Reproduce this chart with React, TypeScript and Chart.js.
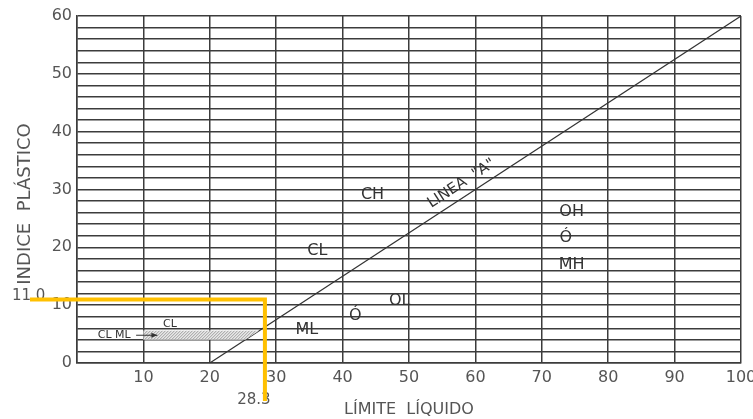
import React, { useEffect, useRef } from 'react';
import { Chart, registerables } from 'chart.js';
Chart.register(...registerables);

// Axis ranges / ticks
const llMin = 0, llMax = 100, llStep = 10;
const piMin = 0, piMax = 60, piStep = 2, piLabelStep = 10;

// Line "A": PI = 0.75 (LL - 20)
const aLineLL = [20, 100];
const aLinePI = [0, 60];

// Zone labels (data coordinates)
const zoneNames = ['CH', 'CL', 'ML', 'Ó', 'OL', 'OH', 'Ó', 'MH'];
const zoneLL = [44.5, 36.2, 34.6, 41.9, 48.6, 74.5, 73.6, 74.5];
const zonePI = [29.1, 19.4, 5.7, 8.1, 10.7, 26.1, 21.6, 17.0];

// CL-ML hatched band
const bandLL = [10];
const bandPI = [4, 5.6];
const smallNames = ['CL', 'CL ML'];
const smallLL = [14.0, 5.6];
const smallPI = [6.7, 4.8];
const arrowLL = [8.9, 12.1];
const arrowPI = 4.8;

// Line A label
const lineALabel = 'LINEA  "A"';
const lineALabelLL = 57.9;
const lineALabelPI = 31.0;

// Sample point
const sampleLL = [28.3];
const samplePI = [11.0];
const sampleLLText = '28.3';
const samplePIText = '11.0';

const FONT = '"DejaVu Sans", sans-serif';

export default function App() {
  const ref = useRef<HTMLCanvasElement | null>(null);
  useEffect(() => {
    document.body.style.margin = '0';
    const canvas = ref.current!;
    const aSlope = (aLinePI[1] - aLinePI[0]) / (aLineLL[1] - aLineLL[0]);
    const aX = (pi: number) => aLineLL[0] + (pi - aLinePI[0]) / aSlope;

    const overlay = {
      id: 'overlay',
      afterDatasetsDraw(chart: any) {
        const ctx = chart.ctx as CanvasRenderingContext2D;
        const xs = chart.scales.x, ys = chart.scales.y;
        const px = (v: number) => xs.getPixelForValue(v);
        const py = (v: number) => ys.getPixelForValue(v);
        ctx.save();
        // hatched band
        const poly = [
          [bandLL[0], bandPI[0]],
          [bandLL[0], bandPI[1]],
          [aX(bandPI[1]), bandPI[1]],
          [aX(bandPI[0]), bandPI[0]],
        ];
        ctx.beginPath();
        poly.forEach(([a, b], i) => (i ? ctx.lineTo(px(a), py(b)) : ctx.moveTo(px(a), py(b))));
        ctx.closePath();
        ctx.fillStyle = 'rgba(232,232,232,1)';
        ctx.fill();
        ctx.save();
        ctx.clip();
        ctx.strokeStyle = '#8a8a8a';
        ctx.lineWidth = 0.8;
        const x0 = px(bandLL[0]) - 20, x1 = px(aX(bandPI[1])) + 20;
        const yTop = py(bandPI[1]), yBot = py(bandPI[0]);
        for (let x = x0; x < x1; x += 3) {
          ctx.beginPath();
          ctx.moveTo(x, yBot);
          ctx.lineTo(x + (yBot - yTop), yTop);
          ctx.stroke();
        }
        ctx.restore();

        // zone labels
        ctx.fillStyle = '#333';
        ctx.font = `16px ${FONT}`;
        ctx.textAlign = 'center';
        ctx.textBaseline = 'middle';
        zoneNames.forEach((n, i) => ctx.fillText(n, px(zoneLL[i]), py(zonePI[i])));

        // small labels
        ctx.font = `11px ${FONT}`;
        smallNames.forEach((n, i) => ctx.fillText(n, px(smallLL[i]), py(smallPI[i])));
        // arrow
        const ax0 = px(arrowLL[0]), ax1 = px(arrowLL[1]), ay = py(arrowPI);
        ctx.strokeStyle = '#333';
        ctx.lineWidth = 1;
        ctx.beginPath();
        ctx.moveTo(ax0, ay);
        ctx.lineTo(ax1, ay);
        ctx.stroke();
        ctx.beginPath();
        ctx.moveTo(ax1, ay);
        ctx.lineTo(ax1 - 6, ay - 2.5);
        ctx.lineTo(ax1 - 6, ay + 2.5);
        ctx.closePath();
        ctx.fillStyle = '#333';
        ctx.fill();

        // line A label
        const ang = Math.atan2(py(aLinePI[1]) - py(aLinePI[0]), px(aLineLL[1]) - px(aLineLL[0]));
        ctx.save();
        ctx.translate(px(lineALabelLL), py(lineALabelPI));
        ctx.rotate(ang);
        ctx.font = `15px ${FONT}`;
        ctx.fillStyle = '#333';
        ctx.fillText(lineALabel, 0, 0);
        ctx.restore();

        // axis titles
        ctx.fillStyle = '#555';
        ctx.font = `16px ${FONT}`;
        ctx.fillText('LÍMITE  LÍQUIDO', 409, 410);
        ctx.save();
        ctx.translate(25, 204);
        ctx.rotate(-Math.PI / 2);
        ctx.font = `18px ${FONT}`;
        ctx.fillText('INDICE  PLÁSTICO', 0, 0);
        ctx.restore();

        // sample value texts
        ctx.fillStyle = '#555';
        ctx.font = `15px ${FONT}`;
        ctx.textAlign = 'left';
        ctx.fillText(samplePIText, 12, py(samplePI[0]) - 3);
        ctx.textAlign = 'center';
        ctx.fillText(sampleLLText, px(sampleLL[0]) - 11, 400);

        // yellow guide lines
        ctx.strokeStyle = '#FFC000';
        ctx.lineWidth = 4;
        ctx.lineCap = 'butt';
        ctx.lineJoin = 'miter';
        ctx.beginPath();
        ctx.moveTo(30, py(samplePI[0]));
        ctx.lineTo(px(sampleLL[0]), py(samplePI[0]));
        ctx.lineTo(px(sampleLL[0]), 401);
        ctx.stroke();
        ctx.restore();
      },
    };

    const chart = new Chart(canvas, {
      type: 'scatter',
      data: {
        datasets: [
          {
            data: aLineLL.map((x, i) => ({ x, y: aLinePI[i] })),
            showLine: true,
            borderColor: '#333',
            borderWidth: 1.2,
            pointRadius: 0,
            fill: false,
          },
        ],
      },
      options: {
        animation: false,
        responsive: false,
        events: [],
        layout: { padding: { top: 16, right: 12, left: 0, bottom: 0 } },
        plugins: { legend: { display: false }, tooltip: { enabled: false } },
        scales: {
          x: {
            type: 'linear',
            min: llMin,
            max: llMax,
            afterFit: (s: any) => { s.height = 56; s.paddingLeft = 0; s.paddingRight = 0; },
            grid: { color: '#3c3c3c', lineWidth: 1.5, drawTicks: false },
            border: { color: '#3c3c3c', width: 1.5 },
            ticks: {
              stepSize: llStep,
              padding: 5,
              color: '#555',
              font: { family: FONT, size: 16 },
              callback: (v: any) => (v === 0 ? '' : String(v)),
              maxRotation: 0,
            },
          },
          y: {
            type: 'linear',
            min: piMin,
            max: piMax,
            afterFit: (s: any) => { s.width = 77; s.paddingTop = 0; s.paddingBottom = 0; },
            grid: { color: '#3c3c3c', lineWidth: 1.5, drawTicks: false },
            border: { color: '#3c3c3c', width: 1.5 },
            ticks: {
              stepSize: piStep,
              padding: 5,
              color: '#555',
              font: { family: FONT, size: 16 },
              autoSkip: false,
              callback: (v: any) => (v % piLabelStep === 0 ? String(v) : ''),
            },
          },
        },
      },
      plugins: [overlay],
    });
    return () => chart.destroy();
  }, []);
  return (
    <div style={{ position: 'absolute', left: 0, top: 0, width: 753, height: 419, background: '#fff' }}>
      <canvas ref={ref} width={753} height={419} />
    </div>
  );
}
